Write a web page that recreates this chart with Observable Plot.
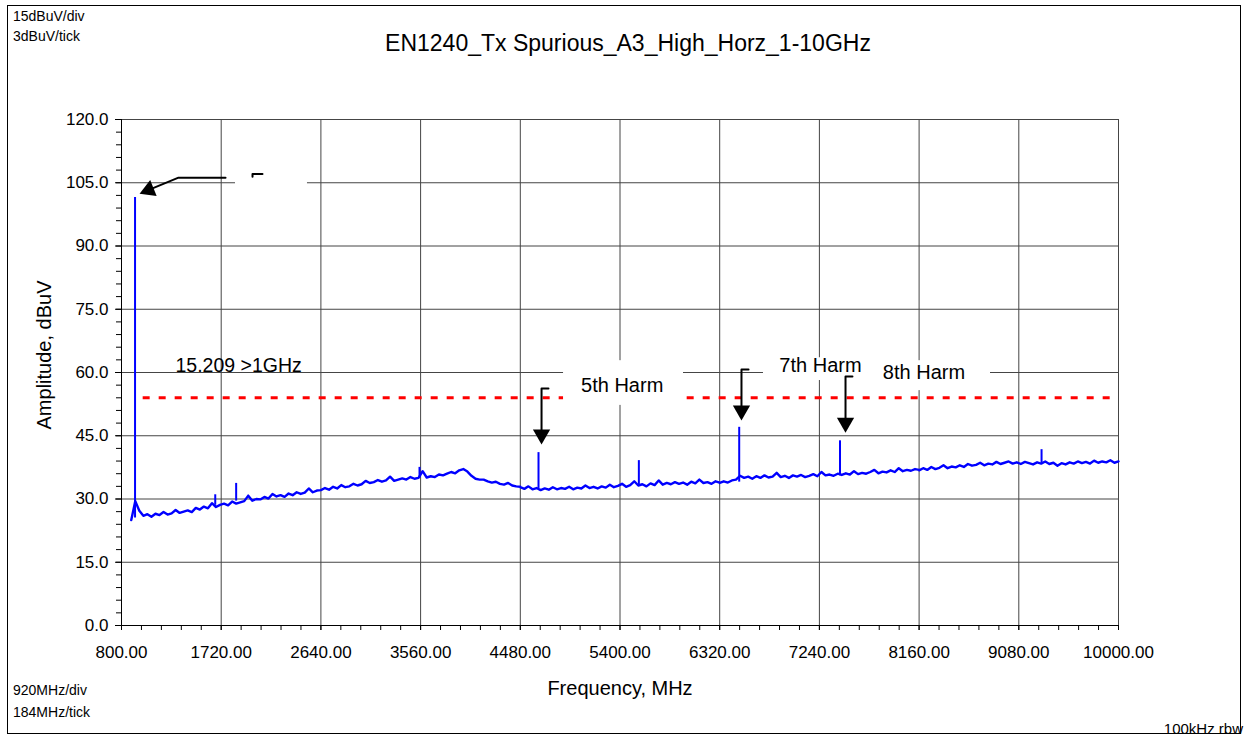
<!DOCTYPE html>
<html>
<head>
<meta charset="utf-8">
<script src="https://cdn.jsdelivr.net/npm/d3@7"></script>
<script src="https://cdn.jsdelivr.net/npm/@observablehq/plot@0.6"></script>
<style>
  body { margin: 0; background: white; }
  #wrap { position: relative; width: 1246px; height: 738px; overflow: hidden; font-family: 'Liberation Sans', Arial, sans-serif; color: black; }
  #chart { position: absolute; left: 0; top: 0; }
  .t { position: absolute; line-height: 1; white-space: nowrap; }
  #border { position: absolute; left: 7px; top: 5px; width: 1232px; height: 727px; border: 1px solid black; }
</style>
</head>
<body>
<div id="wrap">
  <div id="chart"></div>
  <div id="border"></div>
  <div class="t" style="left:13px;top:9px;font-size:14px;">15dBuV/div</div>
  <div class="t" style="left:13px;top:29px;font-size:14px;">3dBuV/tick</div>
  <div class="t" style="left:628px;top:32px;font-size:23px;transform:translateX(-50%);">EN1240_Tx Spurious_A3_High_Horz_1-10GHz</div>
  <div class="t" style="left:44px;top:355px;font-size:20px;transform:translate(-50%,-50%) rotate(-90deg);">Amplitude, dBuV</div>
  <div class="t" style="left:620px;top:678px;font-size:20px;transform:translateX(-50%);">Frequency, MHz</div>
  <div class="t" style="left:13px;top:683px;font-size:14px;">920MHz/div</div>
  <div class="t" style="left:13px;top:705px;font-size:14px;">184MHz/tick</div>
  <div class="t" style="right:3px;top:721px;font-size:15px;">100kHz rbw</div>
</div>
<script>
// ---- axes / ticks ----
const xMajor = [800, 1720, 2640, 3560, 4480, 5400, 6320, 7240, 8160, 9080, 10000];
const yMajor = [0, 15, 30, 45, 60, 75, 90, 105, 120];
const xMinorStep = 184;
const yMinorStep = 3;

// ---- measured noise floor, per sweep segment (dBuV) ----
const segBounds = [[890, 2640], [2640, 4480], [4480, 6320], [6320, 8160], [8160, 10000]];
const segA = [25.0, 29.5, 27.2, 26.0, 26.4, 25.8, 26.5, 26.2, 26.9, 26.3, 26.6, 27.4, 26.7, 27.0, 27.3, 26.9,
  27.9, 27.5, 28.2, 27.8, 29.0, 28.1, 28.6, 28.9, 28.5, 29.4, 28.9, 29.2, 29.5, 30.8, 29.6, 30.0,
  29.9, 30.5, 30.1, 31.2, 30.6, 30.9, 30.5, 31.3, 30.9, 31.6, 31.2, 31.5, 32.5, 31.6, 32.0, 32.1];
const segB = [32.1, 32.6, 32.2, 32.9, 32.5, 33.3, 32.8, 33.0, 33.6, 33.2,
  33.5, 34.3, 33.8, 34.0, 34.5, 34.1, 34.4, 35.3, 34.3, 34.6,
  34.9, 34.6, 35.2, 34.8, 35.0, 36.6, 35.1, 35.4, 35.2, 35.8,
  35.6, 36.0, 36.4, 36.1, 36.8, 37.1, 36.5, 35.5, 34.8, 34.6,
  34.6, 34.2, 33.9, 34.1, 33.6, 33.4, 33.8, 33.2, 33.0, 32.9];
const segC = [32.8, 32.4, 33.0, 32.3, 32.6, 32.1, 32.5, 32.2, 32.8, 32.3,
  32.6, 32.4, 32.9, 32.3, 32.7, 32.5, 33.2, 32.6, 32.9, 32.5,
  33.0, 32.7, 33.4, 32.8, 33.1, 33.6, 32.9, 33.3, 34.2, 33.2,
  33.5, 33.0, 33.7, 33.3, 34.4, 33.4, 33.8, 33.5, 34.0, 33.6,
  33.9, 33.4, 34.1, 33.7, 34.6, 33.8, 34.0, 33.6, 34.2, 33.9];
const segD = [33.8, 34.2, 33.9, 34.4, 34.6, 35.5, 35.0, 35.3, 34.8, 35.4,
  35.0, 35.6, 35.1, 35.3, 36.2, 35.2, 35.5, 35.0, 35.6, 35.3,
  35.7, 35.2, 35.5, 35.9, 35.4, 36.4, 35.6, 35.8, 35.5, 36.0,
  35.7, 36.1, 35.8, 36.6, 35.9, 36.2, 36.0, 36.4, 36.9, 36.1,
  36.5, 36.3, 36.8, 36.4, 37.3, 36.6, 36.9, 36.7, 37.1, 36.9];
const segE = [36.8, 37.3, 36.9, 37.6, 37.1, 37.4, 38.0, 37.3, 37.7, 37.5,
  38.0, 37.6, 38.3, 37.9, 38.1, 38.6, 38.0, 38.4, 38.2, 38.8,
  38.3, 38.6, 38.9, 38.4, 38.7, 38.3, 38.8, 38.5, 38.2, 38.7,
  38.4, 38.9, 38.3, 38.6, 37.9, 38.5, 38.2, 38.7, 38.4, 38.9,
  38.5, 38.8, 38.4, 39.1, 38.6, 38.9, 38.7, 39.2, 38.6, 38.9];
const segValues = [segA, segB, segC, segD, segE];

// ---- spikes (fundamental + harmonics) ----
const spikeFreq = [925, 1665, 1858, 3550, 4648, 5574, 6500, 7430, 9290];
const spikeBase = [25.5, 28.5, 29.5, 35.0, 32.5, 33.0, 34.0, 35.5, 38.5];
const spikePeak = [101.5, 31.0, 33.7, 37.5, 41.0, 39.1, 47.0, 43.8, 41.7];

// ---- limit line ----
const limitLabel = "15.209 >1GHz";
const limitValue = 54;
const limitStart = 1000;
const limitEnd = 10000;

// ---- annotations ----
const harmLabels = ["5th Harm", "7th Harm", "8th Harm"];
const harmLabelX = [5420, 7250, 8205];
const harmLabelY = [56.9, 61.6, 60.0];
// white label boxes: [x1, x2, y1, y2]
const boxX1 = [4879, 6724, 7693, 1852];
const boxX2 = [5986, 7693, 8819, 2516];
const boxY1 = [52.2, 58.1, 55.7, 101.6];
const boxY2 = [62.8, 63.5, 62.8, 109.0];
// arrow paths
const arrowPaths = [
  [[4740, 56.2], [4676, 56.2], [4676, 46.0]],
  [[6586, 60.7], [6521, 60.7], [6521, 51.5]],
  [[7545, 59.05], [7481, 59.05], [7481, 48.6]],
  [[1760, 106.2], [1326, 106.2], [1052, 103.3]],
  [[2101, 107.1], [2009, 107.1], [2009, 106.4]]
];
const headX = [4676, 6521, 7481, 1052];
const headY = [45.3, 51.0, 48.1, 103.3];
const headRotate = [180, 180, 180, 248];

// ---- build tables ----
const trace = segValues.flatMap((vals, s) => {
  const [a, b] = segBounds[s];
  return vals.map((v, i) => ({f: a + (b - a) * i / (vals.length - 1), v}));
});
const spikes = spikeFreq.map((f, i) => ({f, y1: spikeBase[i], y2: spikePeak[i]}));
const boxes = boxX1.map((x1, i) => ({x1, x2: boxX2[i], y1: boxY1[i], y2: boxY2[i]}));
const arrowPts = arrowPaths.flatMap((p, k) => p.map(([x, y]) => ({x, y, k})));
const heads = headX.map((x, i) => ({x, y: headY[i], r: headRotate[i]}));
const harm = harmLabels.map((t, i) => ({t, x: harmLabelX[i], y: harmLabelY[i]}));
const xMinor = d3.range(xMajor[0], xMajor[xMajor.length - 1] + 1, xMinorStep);
const yMinor = d3.range(yMajor[0], yMajor[yMajor.length - 1] + 1, yMinorStep);

const gridColor = "#454545";

const chart = Plot.plot({
  width: 1246,
  height: 738,
  marginLeft: 121,
  marginRight: 128,
  marginTop: 119,
  marginBottom: 113,
  style: {fontFamily: "'Liberation Sans', Arial, sans-serif", fontSize: "17px", background: "white", color: "black"},
  x: {domain: [800, 10000]},
  y: {domain: [0, 120]},
  marks: [
    Plot.ruleY(yMajor, {stroke: gridColor, strokeWidth: 1}),
    Plot.ruleX(xMajor, {stroke: gridColor, strokeWidth: 1}),
    Plot.ruleY([limitValue], {x1: limitStart, x2: limitEnd, stroke: "#ff0000", strokeWidth: 3, strokeDasharray: "7 9"}),
    Plot.rect(boxes, {x1: "x1", x2: "x2", y1: "y1", y2: "y2", fill: "white"}),
    Plot.line(trace, {x: "f", y: "v", stroke: "#0000ff", strokeWidth: 2.4}),
    Plot.ruleX(spikes, {x: "f", y1: "y1", y2: "y2", stroke: "#0000ff", strokeWidth: 2}),
    Plot.line(arrowPts, {x: "x", y: "y", z: "k", stroke: "black", strokeWidth: 2, curve: "linear"}),
    Plot.dot(heads, {x: "x", y: "y", symbol: "triangle", r: 6.4, fill: "black", stroke: "none", rotate: "r"}),
    Plot.text(harm, {x: "x", y: "y", text: "t", fontSize: 20, fill: "black"}),
    Plot.text([limitLabel], {x: 1298, y: 61.7, text: d => d, textAnchor: "start", fontSize: 19.5, fill: "black"}),
    Plot.ruleX([800], {stroke: "black"}),
    Plot.ruleY([0], {stroke: "black"}),
    Plot.axisX({ticks: xMajor, tickSize: 5, tickPadding: 15, tickFormat: d => d.toFixed(2), label: null, fontSize: 17}),
    Plot.axisX({ticks: xMinor, tickSize: 5, tickFormat: () => "", label: null}),
    Plot.axisY({ticks: yMajor, tickSize: 6, tickPadding: 7, tickFormat: d => d.toFixed(1), label: null, fontSize: 17}),
    Plot.axisY({ticks: yMinor, tickSize: 5, tickFormat: () => "", label: null})
  ]
});
document.getElementById("chart").appendChild(chart);
</script>
</body>
</html>
